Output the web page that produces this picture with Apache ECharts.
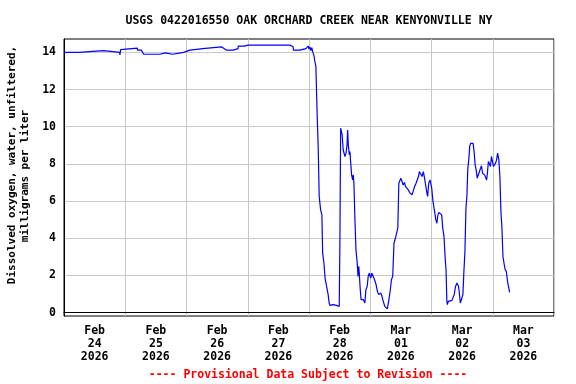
<!DOCTYPE html>
<html>
<head>
<meta charset="utf-8">
<script src="https://cdn.jsdelivr.net/npm/echarts@6/dist/echarts.min.js"></script>
<style>html,body{margin:0;padding:0;background:#fff}#c{width:576px;height:384px}</style>
</head>
<body>
<div id="c"></div>
<script>
// Hours since 2026-02-24 00:00 (local station time)
const hoursSinceFeb24 = [
  0, 5.8, 5.9, 15.5, 15.7, 21.8, 21.9, 22.2, 22.7, 28.7, 28.8, 30.3, 30.4, 31.2, 32.9, 33.2, 33.6, 37.5, 37.7, 39.8,
  40.0, 42.5, 42.6, 46.9, 47.1, 49.3, 49.5, 54.4, 54.5, 61.7, 61.8, 62.2, 63.7, 66.3, 66.4, 68.2, 68.3, 70.8, 72.0, 88.5,
  88.6, 89.8, 89.9, 92.4, 92.5, 94.8, 95.7, 96.0, 96.35, 96.75, 97.1, 97.5, 97.9, 98.3, 98.7, 99.2, 99.6, 100.0, 100.55, 101.05,
  101.35, 101.85, 102.3, 102.9, 103.5, 103.9, 104.2, 105.4, 106.8, 107.05, 107.85, 108.1, 108.4, 108.8, 109.0, 109.4, 109.8, 110.1, 110.5, 110.9,
  111.15, 111.4, 111.8, 112.05, 112.3, 112.7, 113.1, 113.35, 113.6, 114.0, 114.4, 114.9, 115.2, 115.5, 115.7, 116.0, 116.4, 116.8, 117.3, 117.9,
  118.3, 118.8, 119.2, 119.6, 120.2, 120.6, 121.2, 121.7, 122.3, 122.8, 123.3, 124.1, 124.6, 125.1, 125.7, 126.2, 126.7, 127.2, 127.8, 128.3,
  128.8, 129.3, 129.7, 130.4, 130.8, 131.2, 131.6, 132.0, 132.5, 132.9, 133.4, 133.8, 134.3, 134.9, 135.6, 136.4, 136.9, 137.4, 137.95, 138.5,
  138.9, 139.25, 139.9, 140.3, 140.8, 141.2, 141.6, 142.2, 142.5, 142.9, 143.45, 143.7, 144.1, 144.5, 145.0, 145.4, 145.7, 146.1, 146.5, 146.9,
  147.4, 148.0, 148.4, 148.9, 149.3, 149.7, 150.0, 150.2, 150.6, 151.3, 152.0, 152.6, 152.9, 153.4, 154.0, 154.6, 154.9, 155.3, 155.9, 156.3,
  156.7, 157.1, 157.5, 157.9, 158.2, 158.6, 159.0, 159.4, 159.9, 160.3, 160.7, 161.1, 161.5, 161.9, 162.4, 162.8, 163.2, 163.6, 164.0, 164.4,
  164.8, 165.2, 165.6, 165.9, 166.3, 166.7, 167.1, 167.5, 167.9, 168.3, 168.7, 169.1, 169.5, 169.9, 170.1, 170.4, 170.8, 171.2, 171.6, 172.0,
  172.4, 172.8, 173.3, 173.7, 173.9, 174.3, 174.6
];
// Dissolved oxygen, mg/L
const oxygen = [
  14.0, 14.0, 14.09, 14.09, 14.0, 14.0, 13.86, 14.15, 14.23, 14.23, 14.12, 14.12, 14.02, 13.9, 13.9, 13.8, 13.9, 13.9, 13.97, 13.97,
  13.9, 13.9, 14.0, 14.0, 14.09, 14.12, 14.2, 14.2, 14.3, 14.3, 14.34, 14.25, 14.12, 14.12, 14.2, 14.2, 14.34, 14.34, 14.39, 14.39,
  14.3, 14.3, 14.12, 14.12, 14.18, 14.2, 14.34, 14.18, 14.3, 14.1, 14.25, 14.0, 13.86, 13.5, 13.25, 10.6, 8.93, 6.25, 5.53, 5.26,
  3.2, 2.67, 1.86, 1.41, 0.97, 0.52, 0.39, 0.43, 0.39, 0.34, 0.34, 3.65, 9.92, 9.83, 9.56, 8.75, 8.84, 8.4, 8.58, 9.02,
  9.83, 9.02, 8.49, 8.67, 8.13, 7.41, 7.14, 7.41, 6.96, 5.0, 3.38, 2.67, 1.95, 2.49, 2.13, 1.41, 0.70, 0.61, 0.70, 0.52,
  1.24, 1.41, 1.95, 2.13, 1.86, 2.13, 2.13, 1.77, 1.5, 1.15, 0.97, 1.06, 0.88, 0.61, 0.34, 0.34, 0.2, 0.61, 1.15, 1.77,
  1.95, 3.74, 3.92, 4.0, 4.55, 6.96, 7.05, 7.23, 7.29, 6.87, 7.0, 6.79, 6.87, 6.6, 6.43, 6.34, 6.25, 6.79, 6.96, 6.96,
  7.32, 7.59, 7.59, 7.32, 7.59, 7.29, 6.96, 6.43, 6.25, 6.96, 7.14, 7.14, 6.69, 6.07, 5.62, 5.53, 4.99, 4.81, 5.26, 5.39,
  5.32, 5.26, 4.55, 4.1, 3.06, 2.31, 0.69, 0.43, 0.61, 0.55, 0.66, 0.66, 0.97, 1.41, 1.59, 1.41, 1.06, 0.52, 0.79, 0.97,
  2.22, 3.3, 5.62, 6.34, 7.68, 8.22, 8.97, 9.11, 9.02, 9.11, 8.66, 7.95, 7.68, 7.23, 7.23, 7.59, 7.77, 7.9, 7.5, 7.54,
  7.41, 7.5, 7.14, 7.5, 8.13, 8.18, 7.86, 8.4, 8.31, 7.86, 7.86, 8.04, 8.22, 8.58, 8.66, 8.22, 7.32, 5.44, 4.55, 3.02,
  2.67, 2.35, 2.22, 2.13, 1.59, 1.32, 1.09
];
const dayLabelHours = [12, 36, 60, 84, 108, 132, 156, 180];
const dayLabels = ['Feb\n24\n2026', 'Feb\n25\n2026', 'Feb\n26\n2026', 'Feb\n27\n2026', 'Feb\n28\n2026', 'Mar\n01\n2026', 'Mar\n02\n2026', 'Mar\n03\n2026'];
const yTicks = [0, 2, 4, 6, 8, 10, 12, 14];
const titleText = 'USGS 0422016550 OAK ORCHARD CREEK NEAR KENYONVILLE NY';
const yName1 = 'Dissolved oxygen, water, unfiltered,';
const yName2 = 'milligrams per liter';
const footerText = '---- Provisional Data Subject to Revision ----';

const FONT = '"DejaVu Sans Mono", "Liberation Mono", monospace';
const seriesData = hoursSinceFeb24.map((h, i) => [h, oxygen[i]]);

const chart = echarts.init(document.getElementById('c'), null, {renderer: 'canvas'});
chart.setOption({
  backgroundColor: '#ffffff',
  animation: false,
  grid: {left: 64, top: 39, right: 22, bottom: 68, show: true, borderColor: '#000', borderWidth: 1, backgroundColor: 'transparent'},
  xAxis: {
    type: 'value', min: 0, max: 192, interval: 24,
    axisLine: {show: true, lineStyle: {color: '#000', width: 1}},
    axisTick: {show: false},
    splitLine: {show: true, lineStyle: {color: '#c8c8c8', width: 1}},
    axisLabel: {
      customValues: dayLabelHours,
      formatter: v => dayLabels[dayLabelHours.indexOf(v)] || '',
      fontFamily: FONT, fontWeight: 'bold', fontSize: 11.5, color: '#000',
      lineHeight: 12.8, margin: 9
    }
  },
  yAxis: {
    type: 'value', min: -0.18, max: 14.72,
    axisLine: {show: true, lineStyle: {color: '#000', width: 1}},
    axisTick: {show: false, customValues: yTicks},
    splitLine: {show: true, lineStyle: {color: '#c8c8c8', width: 1}},
    axisLabel: {
      customValues: yTicks,
      fontFamily: FONT, fontWeight: 'bold', fontSize: 11.5, color: '#000', margin: 8
    }
  },
  series: [{
    type: 'line', data: seriesData, showSymbol: false, symbol: 'none',
    lineStyle: {color: '#0000ff', width: 1.2}, clip: false
  }],
  graphic: [
    {type: 'text', x: 309, y: 21, style: {text: titleText, font: 'bold 11.5px ' + FONT, fill: '#000', align: 'center', verticalAlign: 'middle'}},
    {type: 'text', x: 308, y: 375, style: {text: footerText, font: 'bold 11.5px ' + FONT, fill: '#ff0000', align: 'center', verticalAlign: 'middle'}},
    {type: 'text', x: 12, y: 165, rotation: Math.PI / 2, style: {text: yName1, font: 'bold 11px ' + FONT, fill: '#000', align: 'center', verticalAlign: 'middle'}},
    {type: 'text', x: 25, y: 176, rotation: Math.PI / 2, style: {text: yName2, font: 'bold 11px ' + FONT, fill: '#000', align: 'center', verticalAlign: 'middle'}}
  ]
});
</script>
</body>
</html>
